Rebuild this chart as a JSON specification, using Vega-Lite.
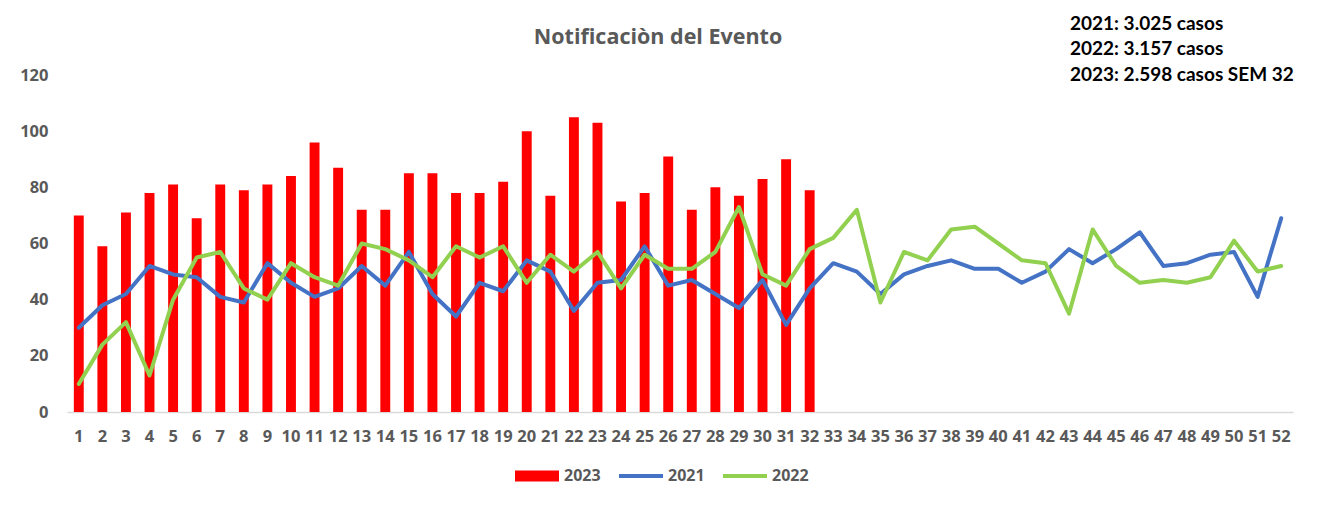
{
  "$schema": "https://vega.github.io/schema/vega-lite/v6.json",
  "width": 1226,
  "height": 337,
  "autosize": {"type": "none"},
  "padding": {"left": 67, "top": 75, "right": 30, "bottom": 94},
  "background": "white",
  "title": {"text": "Notificaciòn del Evento", "anchor": "middle", "dx": -22, "offset": -34, "font": "Open Sans", "fontSize": 21.5, "fontWeight": "bold", "color": "#595959"},
  "datasets": {
    "weekly": [
      {"week": 1, "year": "2023", "cases": 70}, {"week": 2, "year": "2023", "cases": 59}, {"week": 3, "year": "2023", "cases": 71}, {"week": 4, "year": "2023", "cases": 78},
      {"week": 5, "year": "2023", "cases": 81}, {"week": 6, "year": "2023", "cases": 69}, {"week": 7, "year": "2023", "cases": 81}, {"week": 8, "year": "2023", "cases": 79},
      {"week": 9, "year": "2023", "cases": 81}, {"week": 10, "year": "2023", "cases": 84}, {"week": 11, "year": "2023", "cases": 96}, {"week": 12, "year": "2023", "cases": 87},
      {"week": 13, "year": "2023", "cases": 72}, {"week": 14, "year": "2023", "cases": 72}, {"week": 15, "year": "2023", "cases": 85}, {"week": 16, "year": "2023", "cases": 85},
      {"week": 17, "year": "2023", "cases": 78}, {"week": 18, "year": "2023", "cases": 78}, {"week": 19, "year": "2023", "cases": 82}, {"week": 20, "year": "2023", "cases": 100},
      {"week": 21, "year": "2023", "cases": 77}, {"week": 22, "year": "2023", "cases": 105}, {"week": 23, "year": "2023", "cases": 103}, {"week": 24, "year": "2023", "cases": 75},
      {"week": 25, "year": "2023", "cases": 78}, {"week": 26, "year": "2023", "cases": 91}, {"week": 27, "year": "2023", "cases": 72}, {"week": 28, "year": "2023", "cases": 80},
      {"week": 29, "year": "2023", "cases": 77}, {"week": 30, "year": "2023", "cases": 83}, {"week": 31, "year": "2023", "cases": 90}, {"week": 32, "year": "2023", "cases": 79},

      {"week": 1, "year": "2021", "cases": 30}, {"week": 2, "year": "2021", "cases": 38}, {"week": 3, "year": "2021", "cases": 42}, {"week": 4, "year": "2021", "cases": 52},
      {"week": 5, "year": "2021", "cases": 49}, {"week": 6, "year": "2021", "cases": 48}, {"week": 7, "year": "2021", "cases": 41}, {"week": 8, "year": "2021", "cases": 39},
      {"week": 9, "year": "2021", "cases": 53}, {"week": 10, "year": "2021", "cases": 46}, {"week": 11, "year": "2021", "cases": 41}, {"week": 12, "year": "2021", "cases": 44},
      {"week": 13, "year": "2021", "cases": 52}, {"week": 14, "year": "2021", "cases": 45}, {"week": 15, "year": "2021", "cases": 57}, {"week": 16, "year": "2021", "cases": 42},
      {"week": 17, "year": "2021", "cases": 34}, {"week": 18, "year": "2021", "cases": 46}, {"week": 19, "year": "2021", "cases": 43}, {"week": 20, "year": "2021", "cases": 54},
      {"week": 21, "year": "2021", "cases": 50}, {"week": 22, "year": "2021", "cases": 36}, {"week": 23, "year": "2021", "cases": 46}, {"week": 24, "year": "2021", "cases": 47},
      {"week": 25, "year": "2021", "cases": 59}, {"week": 26, "year": "2021", "cases": 45}, {"week": 27, "year": "2021", "cases": 47}, {"week": 28, "year": "2021", "cases": 42},
      {"week": 29, "year": "2021", "cases": 37}, {"week": 30, "year": "2021", "cases": 47}, {"week": 31, "year": "2021", "cases": 31}, {"week": 32, "year": "2021", "cases": 44},
      {"week": 33, "year": "2021", "cases": 53}, {"week": 34, "year": "2021", "cases": 50}, {"week": 35, "year": "2021", "cases": 42}, {"week": 36, "year": "2021", "cases": 49},
      {"week": 37, "year": "2021", "cases": 52}, {"week": 38, "year": "2021", "cases": 54}, {"week": 39, "year": "2021", "cases": 51}, {"week": 40, "year": "2021", "cases": 51},
      {"week": 41, "year": "2021", "cases": 46}, {"week": 42, "year": "2021", "cases": 50}, {"week": 43, "year": "2021", "cases": 58}, {"week": 44, "year": "2021", "cases": 53},
      {"week": 45, "year": "2021", "cases": 58}, {"week": 46, "year": "2021", "cases": 64}, {"week": 47, "year": "2021", "cases": 52}, {"week": 48, "year": "2021", "cases": 53},
      {"week": 49, "year": "2021", "cases": 56}, {"week": 50, "year": "2021", "cases": 57}, {"week": 51, "year": "2021", "cases": 41}, {"week": 52, "year": "2021", "cases": 69},

      {"week": 1, "year": "2022", "cases": 10}, {"week": 2, "year": "2022", "cases": 24}, {"week": 3, "year": "2022", "cases": 32}, {"week": 4, "year": "2022", "cases": 13},
      {"week": 5, "year": "2022", "cases": 40}, {"week": 6, "year": "2022", "cases": 55}, {"week": 7, "year": "2022", "cases": 57}, {"week": 8, "year": "2022", "cases": 44},
      {"week": 9, "year": "2022", "cases": 40}, {"week": 10, "year": "2022", "cases": 53}, {"week": 11, "year": "2022", "cases": 48}, {"week": 12, "year": "2022", "cases": 45},
      {"week": 13, "year": "2022", "cases": 60}, {"week": 14, "year": "2022", "cases": 58}, {"week": 15, "year": "2022", "cases": 54}, {"week": 16, "year": "2022", "cases": 48},
      {"week": 17, "year": "2022", "cases": 59}, {"week": 18, "year": "2022", "cases": 55}, {"week": 19, "year": "2022", "cases": 59}, {"week": 20, "year": "2022", "cases": 46},
      {"week": 21, "year": "2022", "cases": 56}, {"week": 22, "year": "2022", "cases": 50}, {"week": 23, "year": "2022", "cases": 57}, {"week": 24, "year": "2022", "cases": 44},
      {"week": 25, "year": "2022", "cases": 56}, {"week": 26, "year": "2022", "cases": 51}, {"week": 27, "year": "2022", "cases": 51}, {"week": 28, "year": "2022", "cases": 57},
      {"week": 29, "year": "2022", "cases": 73}, {"week": 30, "year": "2022", "cases": 49}, {"week": 31, "year": "2022", "cases": 45}, {"week": 32, "year": "2022", "cases": 58},
      {"week": 33, "year": "2022", "cases": 62}, {"week": 34, "year": "2022", "cases": 72}, {"week": 35, "year": "2022", "cases": 39}, {"week": 36, "year": "2022", "cases": 57},
      {"week": 37, "year": "2022", "cases": 54}, {"week": 38, "year": "2022", "cases": 65}, {"week": 39, "year": "2022", "cases": 66}, {"week": 40, "year": "2022", "cases": 60},
      {"week": 41, "year": "2022", "cases": 54}, {"week": 42, "year": "2022", "cases": 53}, {"week": 43, "year": "2022", "cases": 35}, {"week": 44, "year": "2022", "cases": 65},
      {"week": 45, "year": "2022", "cases": 52}, {"week": 46, "year": "2022", "cases": 46}, {"week": 47, "year": "2022", "cases": 47}, {"week": 48, "year": "2022", "cases": 46},
      {"week": 49, "year": "2022", "cases": 48}, {"week": 50, "year": "2022", "cases": 61}, {"week": 51, "year": "2022", "cases": 50}, {"week": 52, "year": "2022", "cases": 52}
    ]
  },
  "layer": [
    {
      "data": {"name": "weekly"},
      "encoding": {
        "x": {
          "field": "week", "type": "ordinal",
          "scale": {"paddingInner": 0.58, "paddingOuter": 0.29},
          "axis": {"title": null, "labelAngle": 0, "ticks": false, "grid": false, "domainColor": "#D9D9D9", "domainWidth": 1.5, "labelFont": "Open Sans", "labelFontSize": 16.5, "labelFontWeight": "bold", "labelColor": "#595959", "labelPadding": 16, "labelOverlap": false}
        },
        "y": {
          "field": "cases", "type": "quantitative",
          "scale": {"domain": [0, 120], "nice": false},
          "axis": {"title": null, "values": [0, 20, 40, 60, 80, 100, 120], "grid": false, "domain": false, "ticks": false, "labelPadding": 19, "labelFont": "Open Sans", "labelFontSize": 16.5, "labelFontWeight": "bold", "labelColor": "#595959"}
        },
        "color": {
          "field": "year", "type": "nominal",
          "scale": {"domain": ["2023", "2021", "2022"], "range": ["#FF0000", "#4472C4", "#92D050"]},
          "legend": {
            "title": null, "orient": "none", "legendX": 448, "legendY": 379, "direction": "horizontal",
            "symbolSize": 1936, "symbolStrokeWidth": 0,
            "labelFont": "Open Sans", "labelFontSize": 16, "labelFontWeight": "bold", "labelColor": "#595959",
            "labelOffset": 5, "columnPadding": 18,
            "encode": {
              "symbols": {
                "update": {
                  "shape": {"signal": "datum.value === '2023' ? 'M-1,-0.25H1V0.25H-1Z' : 'M-1,-0.09H1V0.09H-1Z'"},
                  "fill": {"signal": "datum.value === '2023' ? '#FF0000' : datum.value === '2021' ? '#4472C4' : '#92D050'"},
                  "fillOpacity": {"value": 1},
                  "opacity": {"value": 1},
                  "strokeWidth": {"value": 0}
                }
              }
            }
          }
        }
      },
      "layer": [
        {
          "transform": [{"filter": "datum.year === '2023'"}],
          "mark": {"type": "bar"}
        },
        {
          "transform": [{"filter": "datum.year === '2021'"}],
          "mark": {"type": "line", "strokeWidth": 4, "strokeCap": "round", "strokeJoin": "round"}
        },
        {
          "transform": [{"filter": "datum.year === '2022'"}],
          "mark": {"type": "line", "strokeWidth": 4, "strokeCap": "round", "strokeJoin": "round"}
        }
      ]
    },
    {
      "data": {"values": [{"note": "2021: 3.025 casos"}]},
      "mark": {"type": "text", "align": "left", "baseline": "top", "font": "Lato", "fontSize": 19, "fontWeight": "bold", "lineHeight": 25.5, "dx": 1, "color": "#000000"},
      "encoding": {
        "x": {"datum": 43, "type": "ordinal"},
        "y": {"datum": 141.4, "type": "quantitative"},
        "text": {"value": ["2021: 3.025 casos", "2022: 3.157 casos", "2023: 2.598 casos SEM 32"]}
      }
    }
  ],
  "config": {"view": {"stroke": null}}
}
